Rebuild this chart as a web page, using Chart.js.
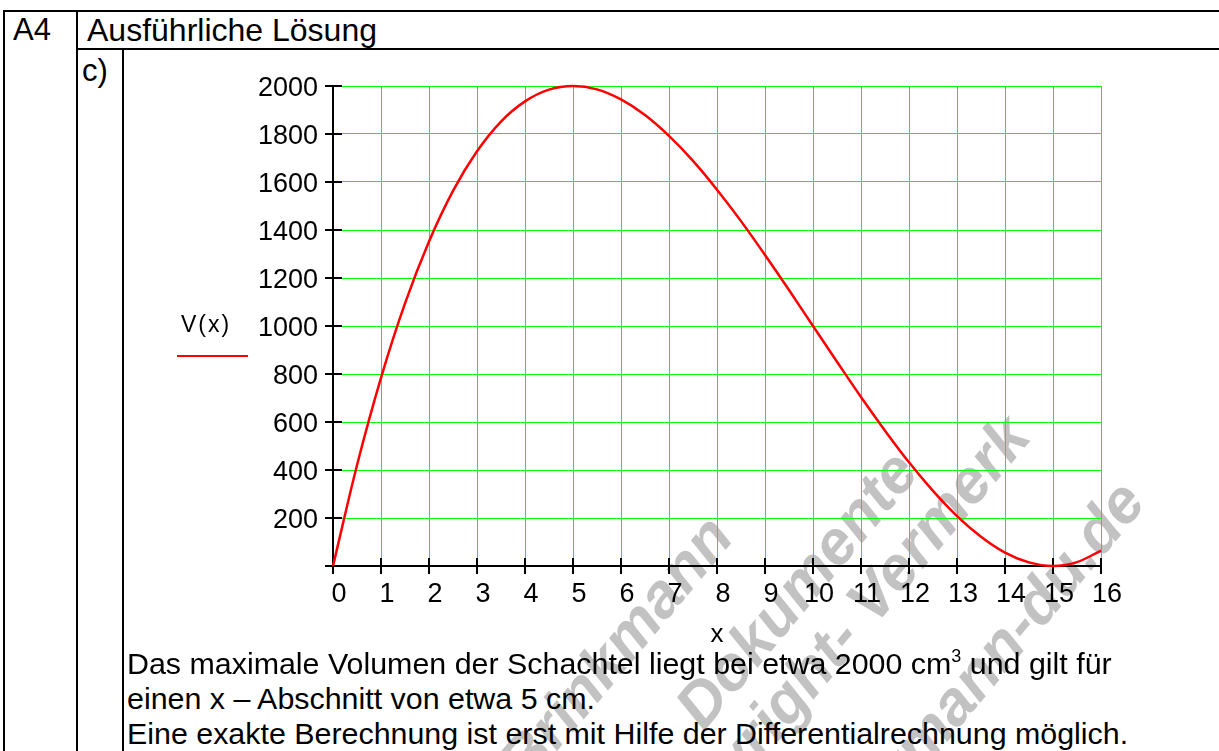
<!DOCTYPE html>
<html>
<head>
<meta charset="utf-8">
<script src="https://cdn.jsdelivr.net/npm/chart.js@4.4.1/dist/chart.umd.min.js"></script>
<style>
  html, body { margin:0; padding:0; background:#fff; }
  body { width:1219px; height:751px; overflow:hidden; position:relative; font-family:"Liberation Sans", Arial, sans-serif; color:#000; }
  .ln { position:absolute; background:#000; }
  .tx { position:absolute; white-space:nowrap; line-height:1; font-family:"Liberation Sans", Arial, sans-serif; }
  .wm { position:absolute; white-space:nowrap; text-align:right; width:1000px; height:60px; line-height:60px;
        font:italic bold 62px "Liberation Sans", Arial, sans-serif; color:#c2c2c2;
        transform-origin:100% 100%; transform:rotate(-50deg); z-index:0; }
  #chartWrap { position:absolute; left:124px; top:50px; width:1095px; height:600px; z-index:1; }
  .front { z-index:2; }
</style>
</head>
<body>
<!-- watermark (behind) -->
<div class="wm" style="left:-262px; top:480px;">Brinkmann</div>
<div class="wm" style="left:-77px; top:415px;">Dokumente</div>
<div class="wm" style="left:35px; top:380px;">Copyright- Vermerk</div>
<div class="wm" style="left:150px; top:445px;">www.brinkmann-du.de</div>

<!-- table lines -->
<div class="ln front" style="left:3px; top:10px; width:1216px; height:2px;"></div>
<div class="ln front" style="left:76px; top:48px; width:1143px; height:2px;"></div>
<div class="ln front" style="left:3px; top:10px; width:2px; height:741px;"></div>
<div class="ln front" style="left:76px; top:10px; width:2px; height:741px;"></div>
<div class="ln front" style="left:122px; top:48px; width:2px; height:703px;"></div>

<div class="tx front" style="left:13px; top:14px; font-size:31px;">A4</div>
<div class="tx front" style="left:87px; top:14px; font-size:32px;">Ausführliche Lösung</div>
<div class="tx front" style="left:82px; top:55px; font-size:31px;">c)</div>

<div class="tx front" style="left:181px; top:313px; font-size:23px; letter-spacing:2px;">V(x)</div>
<div class="ln front" style="left:177px; top:355px; width:71px; height:2px; background:#ff0000;"></div>

<div id="chartWrap"><canvas id="c" width="1095" height="600"></canvas></div>

<div class="tx front" style="left:127px; top:648px; font-size:30.4px;">Das maximale Volumen der Schachtel liegt bei etwa 2000 cm<span style="font-size:18px; position:relative; top:-12px;">3</span> und gilt für</div>
<div class="tx front" style="left:127px; top:683px; font-size:30.4px;">einen x – Abschnitt von etwa 5 cm.</div>
<div class="tx front" style="left:127px; top:718px; font-size:30.4px;">Eine exakte Berechnung ist erst mit Hilfe der Differentialrechnung möglich.</div>

<script>
// ---- data ----
const xValues = [0, 0.5, 1, 1.5, 2, 2.5, 3, 3.5, 4, 4.5, 5, 5.5, 6, 6.5, 7, 7.5, 8,
                 8.5, 9, 9.5, 10, 10.5, 11, 11.5, 12, 12.5, 13, 13.5, 14, 14.5, 15, 15.5, 16];
const vValues = [0, 420, 784, 1094, 1352, 1563, 1728, 1852, 1936, 1985, 2000, 1986, 1944, 1879, 1792, 1688, 1568,
                 1437, 1296, 1150, 1000, 851, 704, 564, 432, 313, 208, 122, 56, 15, 0, 16, 64];
const xTicks = [0, 1, 2, 3, 4, 5, 6, 7, 8, 9, 10, 11, 12, 13, 14, 15, 16];
const xTickLabels = ['0','1','2','3','4','5','6','7','8','9','10','11','12','13','14','15','16'];
const yTicks = [0, 200, 400, 600, 800, 1000, 1200, 1400, 1600, 1800, 2000];
const yTickLabels = ['', '200', '400', '600', '800', '1000', '1200', '1400', '1600', '1800', '2000'];

const FONT = 'Liberation Sans';

const axesPlugin = {
  id: 'axesCross',
  beforeDatasetsDraw(chart) {
    const { ctx, scales: { x, y } } = chart;
    const x0 = x.getPixelForValue(xTicks[0]);
    const x1 = x.getPixelForValue(xTicks[xTicks.length - 1]);
    const y0 = y.getPixelForValue(yTicks[0]);
    const y1 = y.getPixelForValue(yTicks[yTicks.length - 1]);
    ctx.save();
    ctx.strokeStyle = '#000';
    ctx.lineWidth = 2;
    ctx.beginPath();
    ctx.moveTo(x0, y1); ctx.lineTo(x0, y0 + 8);
    ctx.moveTo(x0 - 8, y0); ctx.lineTo(x1, y0);
    yTicks.forEach(v => { const p = y.getPixelForValue(v); ctx.moveTo(x0 - 8, p); ctx.lineTo(x0 + 9, p); });
    xTicks.forEach(v => { const p = x.getPixelForValue(v); ctx.moveTo(p, y0 - 8); ctx.lineTo(p, y0 + 8); });
    ctx.stroke();
    ctx.restore();
  }
};

new Chart(document.getElementById('c'), {
  type: 'line',
  data: {
    datasets: [{
      label: 'V(x)',
      data: xValues.map((xv, i) => ({ x: xv, y: vValues[i] })),
      borderColor: '#ff0000',
      borderWidth: 2.5,
      pointRadius: 0,
      cubicInterpolationMode: 'monotone',
      clip: false
    }]
  },
  options: {
    responsive: false,
    animation: false,
    devicePixelRatio: 1,
    layout: { padding: { left: 0, top: 36, right: 118, bottom: 0 } },
    plugins: { legend: { display: false }, tooltip: { enabled: false } },
    scales: {
      x: {
        type: 'linear', min: 0, max: 16,
        afterBuildTicks: s => { s.ticks = xTicks.map(v => ({ value: v })); },
        afterFit: s => { s.height = 84; },
        ticks: {
          autoSkip: false, maxRotation: 0, minRotation: 0, padding: 12, labelOffset: 6,
          color: '#000', font: { family: FONT, size: 27 },
          callback: (v, i) => xTickLabels[i]
        },
        grid: { color: '#00ff00', lineWidth: 1, drawTicks: false },
        border: { display: false },
        title: { display: true, text: 'x', color: '#000', font: { family: FONT, size: 26 }, padding: 0 }
      },
      y: {
        type: 'linear', min: 0, max: 2000,
        afterBuildTicks: s => { s.ticks = yTicks.map(v => ({ value: v })); },
        afterFit: s => { s.width = 209; },
        ticks: {
          autoSkip: false, padding: 15, labelOffset: 3,
          color: '#000', font: { family: FONT, size: 27 },
          callback: (v, i) => yTickLabels[i]
        },
        grid: { color: '#00ff00', lineWidth: 1, drawTicks: false },
        border: { display: false }
      }
    }
  },
  plugins: [axesPlugin]
});
</script>
</body>
</html>
